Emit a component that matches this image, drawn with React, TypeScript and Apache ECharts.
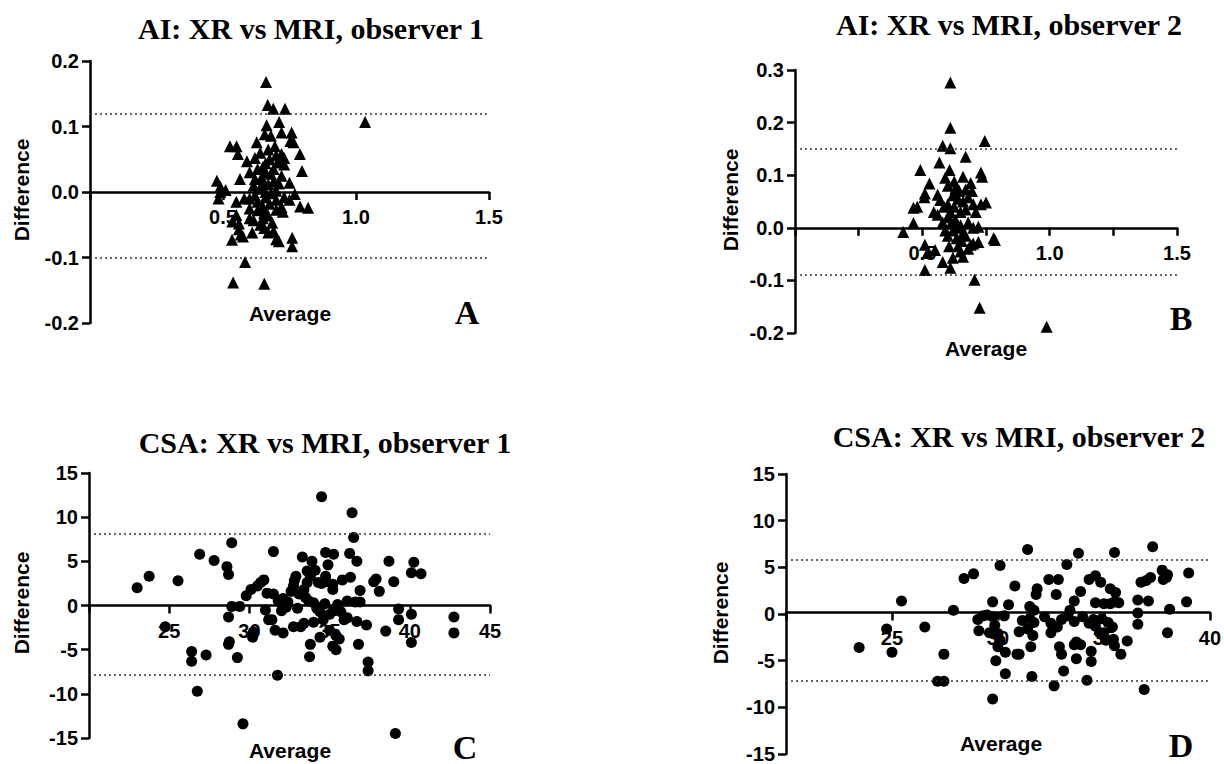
import React, { useEffect, useRef } from "react";
import * as echarts from "echarts";

// ---- Data (average, difference) ----
const aiObs1Points: number[][] = [
  [0.662, 0.168], [1.034, 0.107], [0.538, -0.138], [0.655, -0.14], [0.583, -0.107],
  [0.668, 0.133], [0.689, 0.127], [0.733, 0.127], [0.711, 0.107], [0.664, 0.102],
  [0.758, 0.091], [0.72, 0.091], [0.657, 0.088], [0.68, 0.086], [0.753, 0.078], [0.765, 0.076],
  [0.627, 0.076], [0.526, 0.07], [0.551, 0.07], [0.556, 0.058], [0.7, 0.056], [0.72, 0.058], [0.73, 0.052], [0.789, 0.058],
  [0.59, 0.047], [0.62, 0.052], [0.66, 0.044], [0.65, 0.038], [0.705, 0.045], [0.73, 0.042], [0.797, 0.032],
  [0.564, 0.02], [0.6, 0.03], [0.62, 0.02], [0.66, 0.03], [0.68, 0.028], [0.72, 0.025], [0.75, 0.014],
  [0.65, 0.015], [0.67, 0.012], [0.69, 0.016], [0.71, 0.013],
  [0.477, 0.017], [0.49, 0.008], [0.51, 0.003], [0.49, 0.0], [0.483, -0.01],
  [0.66, 0.0], [0.68, -0.002], [0.7, 0.002], [0.77, -0.003], [0.75, -0.012], [0.79, -0.022], [0.82, -0.024],
  [0.6, -0.01], [0.63, -0.015], [0.66, -0.008], [0.55, -0.015], [0.58, -0.01],
  [0.6, -0.025], [0.63, -0.028], [0.65, -0.022], [0.7, -0.027], [0.72, -0.023], [0.725, -0.03],
  [0.55, -0.035], [0.535, -0.045], [0.56, -0.048], [0.6, -0.04], [0.615, -0.043],
  [0.65, -0.04], [0.67, -0.036], [0.685, -0.047], [0.56, -0.057], [0.567, -0.065], [0.575, -0.068], [0.61, -0.062],
  [0.64, -0.05], [0.655, -0.055], [0.67, -0.062], [0.69, -0.06], [0.7, -0.072], [0.71, -0.075], [0.534, -0.073],
  [0.76, -0.07], [0.76, -0.083],
  [0.64, 0.06], [0.67, 0.065], [0.69, 0.035], [0.63, 0.035], [0.64, 0.005], [0.62, -0.005], [0.675, 0.05],
  [0.695, 0.07], [0.645, 0.022], [0.615, 0.01], [0.7, -0.012], [0.73, -0.008], [0.655, -0.032], [0.675, -0.018],
];

const aiObs2Points: number[][] = [
  [0.61, 0.276], [0.61, 0.19], [0.745, 0.165], [0.58, 0.156], [0.61, 0.151], [0.67, 0.135], [0.567, 0.124],
  [0.492, 0.11], [0.607, 0.11], [0.73, 0.105], [0.735, 0.097], [0.59, 0.095], [0.66, 0.097], [0.69, 0.085],
  [0.528, 0.084], [0.6, 0.08], [0.63, 0.075], [0.67, 0.073],
  [0.51, 0.065], [0.508, 0.058], [0.56, 0.063], [0.57, 0.053], [0.62, 0.062], [0.64, 0.055], [0.68, 0.058],
  [0.7, 0.045], [0.73, 0.045], [0.75, 0.048],
  [0.48, 0.04], [0.465, 0.038], [0.545, 0.03], [0.585, 0.04], [0.61, 0.03], [0.65, 0.03], [0.67, 0.035],
  [0.465, 0.009], [0.425, -0.008],
  [0.6, 0.02], [0.615, 0.01], [0.63, 0.015], [0.64, 0.0], [0.65, 0.005], [0.62, -0.005], [0.66, -0.01],
  [0.68, 0.01], [0.7, 0.0], [0.72, 0.002], [0.6, -0.015], [0.635, -0.02], [0.655, -0.025], [0.67, -0.015],
  [0.72, -0.027], [0.69, -0.032], [0.51, -0.032], [0.55, -0.042], [0.52, -0.048],
  [0.58, -0.065], [0.62, -0.057], [0.66, -0.055], [0.61, -0.076], [0.51, -0.08], [0.705, -0.099],
  [0.725, -0.152], [0.988, -0.188],
  [0.78, -0.02], [0.785, -0.023], [0.65, -0.045], [0.64, -0.035], [0.6, 0.045], [0.625, 0.088], [0.645, 0.07],
  [0.695, 0.07], [0.71, 0.03], [0.59, -0.005], [0.605, -0.035], [0.68, -0.04], [0.7, -0.03], [0.625, 0.04],
  [0.66, 0.05], [0.58, 0.01], [0.56, 0.025],
];

const csaObs1Points: number[][] = [
  [23.0, 2.0], [23.75, 3.3], [25.55, 2.8], [24.75, -2.4], [26.9, 5.8], [27.8, 5.1], [28.9, 7.1], [28.6, 4.4], [28.7, 3.5],
  [26.4, -5.2], [26.4, -6.3], [27.3, -5.6], [26.75, -9.7], [29.6, -13.4], [29.25, -5.9], [28.7, -4.4], [28.75, -4.1], [28.7, -1.3],
  [28.9, -0.1], [29.4, -0.1], [29.8, 1.1], [30.1, 1.8], [30.25, -3.0], [30.2, -3.6], [30.5, 2.2], [30.7, 2.6], [30.9, 2.9],
  [31.0, -0.5], [31.2, -1.6], [31.4, -1.6], [31.5, 6.1], [31.1, 1.4], [31.5, 1.3], [31.6, -2.8], [32.1, -3.1], [31.75, -7.9],
  [31.8, 0.5], [32.1, 0.8], [32.4, 0.4], [32.6, 1.6], [32.75, 2.2], [32.8, 2.8], [32.9, 3.3], [33.0, -0.3], [33.2, -2.4], [33.4, -2.0],
  [33.3, 5.5], [33.9, 5.0], [34.1, 4.0], [33.6, 3.9], [33.6, 2.6], [33.8, 3.3], [33.7, 0.5], [34.0, 0.3], [34.2, -0.3], [34.4, -0.7], [34.3, -0.2],
  [34.5, 12.3], [34.3, 2.6], [34.5, 2.5], [34.75, 3.3], [34.8, 2.7], [34.9, 4.6], [34.75, 6.0], [35.25, 5.8], [35.2, 2.4], [35.2, 1.8],
  [33.8, -4.4], [33.75, -5.8], [34.4, -3.6], [35.0, -2.8], [35.4, -3.4], [35.6, -3.8], [35.2, -4.6], [35.4, -5.0],
  [34.6, -1.6], [35.0, -1.0], [35.3, -0.6], [35.7, -0.7], [35.8, 2.9], [36.3, 3.2], [36.25, 5.9], [36.4, 10.5], [36.5, 7.7], [36.7, 5.0],
  [36.1, 0.5], [36.6, 0.4], [36.9, 0.4], [35.9, -1.6], [36.1, -1.4], [36.7, -1.8], [37.3, -2.2], [36.8, -4.4], [36.9, 1.7],
  [37.4, -6.4], [37.4, -7.4], [37.75, 2.7], [37.9, 3.0], [38.1, 1.6], [38.5, -2.9], [38.7, 5.0], [39.0, 2.7], [39.3, -0.4], [39.3, -1.6],
  [39.1, -14.5], [40.1, -1.0], [40.1, -4.2], [40.25, 4.9], [40.1, 3.7], [40.7, 3.6], [42.75, -1.3], [42.75, -3.1],
  [32.3, -0.2], [33.1, 1.3], [33.5, 0.9], [34.0, -1.9], [34.7, 0.2], [35.5, 0.1], [33.4, 1.8], [32.0, -0.6],
  [32.75, -2.4],
];

const csaObs2Points: number[][] = [
  [23.45, -3.6], [24.75, -1.6], [25.0, -4.1], [25.45, 1.4], [26.55, -1.4], [27.15, -7.2], [27.45, -7.2], [27.45, -4.3], [27.9, 0.4],
  [28.4, 3.8], [28.85, 4.3], [29.1, -1.8], [29.05, -0.6], [29.3, -0.2], [29.5, -0.1], [29.75, 1.3], [30.1, 5.2],
  [29.75, -0.3], [29.85, -1.2], [30.0, -2.1], [30.1, -2.8], [30.0, -3.5], [30.35, -4.1], [29.9, -5.0], [29.75, -9.1], [30.35, -6.4],
  [30.5, 1.0], [30.8, 3.0], [30.9, -4.3], [31.0, -1.9], [31.4, 6.9], [31.15, -0.7],
  [31.5, 0.8], [31.7, 0.4], [31.5, -0.5], [31.7, -0.9], [31.4, -1.6], [31.65, -2.3], [31.55, -3.5], [31.0, -4.3], [31.6, -6.7],
  [31.85, 2.7], [31.8, 2.1], [32.4, 3.7], [32.85, 3.7], [32.75, 2.1], [32.65, -7.7], [33.25, 5.3], [33.8, 6.5],
  [32.2, -0.3], [32.5, -1.0], [32.5, -2.0], [33.0, -0.6], [33.3, -0.2], [33.4, 0.4],
  [32.9, -3.5], [33.0, -4.3], [33.1, -6.1], [33.6, 1.4], [33.9, 2.4], [33.7, -3.0], [33.6, -3.3], [33.9, -3.3], [33.7, -4.8],
  [34.3, 3.7], [34.6, 4.1], [34.85, 3.4], [34.3, -1.0], [34.5, -0.6], [34.6, -1.3], [34.8, -2.0], [35.0, -2.0], [35.1, -2.8],
  [34.4, -4.0], [34.4, -5.1], [34.2, -7.1], [34.6, 1.2], [35.0, 1.1], [35.3, 1.1], [35.5, 1.3], [35.7, 1.2], [35.3, 2.7], [35.55, 2.3], [35.5, 6.6],
  [35.45, -2.7], [35.5, -3.4], [35.8, -4.3], [36.1, -2.9], [36.6, 1.5], [36.6, 0.1], [36.6, -1.1], [36.9, -8.1],
  [36.75, 3.4], [37.0, 3.6], [37.2, 3.9], [37.1, 1.4], [37.3, 7.2], [37.75, 4.7], [37.8, 3.7], [37.95, 3.9], [38.0, 4.2],
  [38.0, -2.0], [38.1, 0.5], [38.9, 1.3], [39.0, 4.4],
  [34.0, -0.3], [34.9, -0.5], [35.2, -0.9], [35.4, -1.4], [33.6, -0.8], [32.8, -1.4], [30.3, -0.2], [29.6, -2.0],
];

// Limits of agreement (upper, lower)
const loaAiObs1 = [0.117, -0.096];
const loaAiObs2 = [0.15, -0.09];
const loaCsaObs1 = [8.1, -7.8];
const loaCsaObs2 = [5.8, -7.1];

const panelTitles = [
  "AI: XR vs MRI, observer 1",
  "AI: XR vs MRI, observer 2",
  "CSA: XR vs MRI, observer 1",
  "CSA: XR vs MRI, observer 2",
];
const panelLetters = ["A", "B", "C", "D"];
const xAxisName = "Average";
const yAxisName = "Difference";

// axis ranges: [min, max, interval]
const xRanges = [
  [0, 1.5, 0.5],
  [0, 1.5, 0.25],
  [20, 45, 5],
  [20, 40, 5],
];
const yRanges = [
  [-0.2, 0.2, 0.1],
  [-0.2, 0.3, 0.1],
  [-15, 15, 5],
  [-15, 15, 5],
];

// layout (pixels)
const layouts = [
  { left: 90, top: 61, width: 399, height: 262, title: [311, 28], letter: [467, 312], avg: [290, 313], diff: [21, 190] },
  { left: 795, top: 70, width: 382, height: 263, title: [1009, 24], letter: [1181, 318], avg: [986, 348], diff: [730, 200] },
  { left: 89, top: 473, width: 401, height: 265, title: [325, 442], letter: [465, 747], avg: [290, 750], diff: [21, 603] },
  { left: 786, top: 474, width: 430, height: 283, title: [1019, 436], letter: [1181, 745], avg: [1001, 743], diff: [720, 613] },
];

const SANS = '"Liberation Sans", Arial, sans-serif';
const SERIF = '"Liberation Serif", "Times New Roman", serif';

export default function App() {
  const ref = useRef<HTMLDivElement>(null);

  useEffect(() => {
    document.body.style.margin = "0";
    if (!ref.current) return;
    const chart = echarts.init(ref.current, undefined, { renderer: "svg" });

    const datasets = [aiObs1Points, aiObs2Points, csaObs1Points, csaObs2Points];
    const loas = [loaAiObs1, loaAiObs2, loaCsaObs1, loaCsaObs2];
    const symbols = ["triangle", "triangle", "circle", "circle"];
    const sizes = [12, 12, 11, 11];

    const grids: any[] = [];
    const xAxes: any[] = [];
    const yAxes: any[] = [];
    const series: any[] = [];
    const graphics: any[] = [];

    for (let i = 0; i < 4; i++) {
      const L = layouts[i];
      const [xmin, xmax, xint] = xRanges[i];
      const [ymin, ymax, yint] = yRanges[i];
      const isAI = i < 2;
      // place the x axis on the zero line of the y axis
      const zeroOffset = -L.height * (0 - ymin) / (ymax - ymin);
      grids.push({ left: L.left, top: L.top, width: L.width, height: L.height, containLabel: false });
      xAxes.push({
        type: "value",
        gridIndex: i,
        position: "bottom",
        offset: zeroOffset,
        min: xmin,
        max: xmax,
        interval: xint,
        axisLine: { show: true, onZero: false, lineStyle: { color: "#000", width: 2.5 } },
        axisTick: { show: true, length: 8, lineStyle: { color: "#000", width: 2.5 } },
        splitLine: { show: false },
        axisLabel: {
          color: "#000",
          fontSize: 20,
          fontWeight: "bold",
          fontFamily: SANS,
          margin: 15,
          formatter: (v: number) => {
            if (Math.abs(v - xmin) < 1e-9) return "";
            if (isAI) {
              const r = v * 2;
              if (Math.abs(r - Math.round(r)) > 1e-6) return "";
              return v.toFixed(1);
            }
            return String(Math.round(v));
          },
        },
      });
      yAxes.push({
        type: "value",
        gridIndex: i,
        min: ymin,
        max: ymax,
        interval: yint,
        axisLine: { show: true, onZero: false, lineStyle: { color: "#000", width: 2.5 } },
        axisTick: { show: true, length: 8, lineStyle: { color: "#000", width: 2.5 } },
        splitLine: { show: false },
        axisLabel: {
          color: "#000",
          fontSize: 20,
          fontWeight: "bold",
          fontFamily: SANS,
          margin: 11,
          formatter: (v: number) => (isAI ? v.toFixed(1) : String(Math.round(v))),
        },
      });
      series.push({
        type: "scatter",
        xAxisIndex: i,
        yAxisIndex: i,
        symbol: symbols[i],
        symbolSize: sizes[i],
        itemStyle: { color: "#000", opacity: 1 },
        data: datasets[i],
        z: 3,
        markLine: {
          silent: true,
          symbol: "none",
          label: { show: false },
          lineStyle: { color: "#333", type: [2, 3], width: 1.6 },
          data: loas[i].map((v) => ({ yAxis: v })),
        },
      });

      const txt = (x: number, y: number, text: string, font: string, rotation = 0) => ({
        type: "text",
        x,
        y,
        rotation,
        z: 10,
        style: {
          text,
          font,
          fill: "#000",
          textAlign: "center",
          textVerticalAlign: "middle",
          align: "center",
          verticalAlign: "middle",
        },
      });
      graphics.push(txt(L.title[0], L.title[1], panelTitles[i], `bold 30px ${SERIF}`));
      graphics.push(txt(L.letter[0], L.letter[1], panelLetters[i], `bold 34px ${SERIF}`));
      graphics.push(txt(L.avg[0], L.avg[1], xAxisName, `bold 21px ${SANS}`));
      graphics.push(txt(L.diff[0], L.diff[1], yAxisName, `bold 21px ${SANS}`, Math.PI / 2));
    }

    chart.setOption({
      animation: false,
      backgroundColor: "#fff",
      grid: grids,
      xAxis: xAxes,
      yAxis: yAxes,
      series,
      graphic: graphics,
    });

    return () => chart.dispose();
  }, []);

  return <div ref={ref} style={{ width: 1224, height: 764 }} />;
}
